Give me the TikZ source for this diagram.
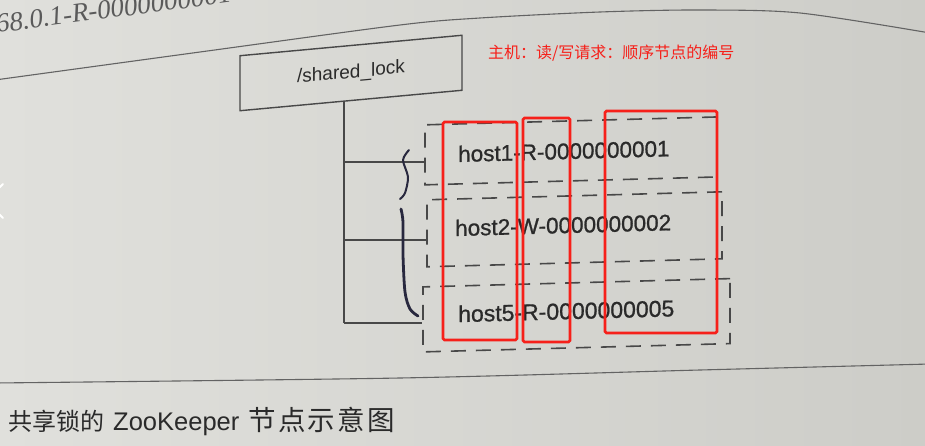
\documentclass[tikz,border=0pt]{standalone}
\usepackage{fontspec}
\setmainfont{Liberation Sans}
\newfontfamily\cjkfont{Noto Sans CJK SC}
\newfontfamily\bookserif{Liberation Serif}
\newfontfamily\hostfont[FakeBold=0.9]{Liberation Sans}
\definecolor{paperlight}{RGB}{224,224,220}
\definecolor{paperdark}{RGB}{205,205,200}
\definecolor{ink}{RGB}{72,72,72}
\definecolor{printtext}{RGB}{42,42,42}
\definecolor{pen}{RGB}{40,40,62}
\definecolor{markred}{RGB}{246,32,26}
\tikzset{
  pagerule/.style={draw=ink!85, line width=1.1pt},
  treeline/.style={draw=ink, line width=1.3pt},
  hostbox/.style={draw=ink, line width=1.6pt, dash pattern=on 15pt off 10pt,
    rectangle, inner sep=0pt},
  rootbox/.style={draw=ink, line width=1.4pt, rectangle, inner sep=0pt,
    minimum width=222pt, minimum height=55pt,
    font=\fontsize{19}{19}\selectfont, text=printtext},
  hostlabel/.style={anchor=west, inner sep=0pt,
    font=\hostfont\fontsize{22.5}{22.5}\selectfont, text=printtext},
  markbox/.style={draw=markred, line width=2.6pt, rounded corners=1.5pt,
    rectangle, inner sep=0pt},
  bracestroke/.style={draw=pen, line cap=round, line join=round},
}
\begin{document}
\begin{tikzpicture}[x=1pt,y=-1pt]
\useasboundingbox (0,0) rectangle (925,446);
\begin{scope}
\clip (0,0) rectangle (925,446);
% paper
\shade[left color=paperlight, right color=paperdark] (0,0) rectangle (925,446);

% running text cut at the top of the page
\node[anchor=base west, inner sep=0pt, rotate=7.5, text=ink!90,
  font=\bookserif\itshape\fontsize{27}{27}\selectfont] (header) at (-3,33)
  {68.0.1-R-0000000001};

% page rules
\draw[pagerule] plot[smooth] coordinates
  {(-5,80) (200,52) (400,25) (480,18) (600,12) (700,10) (800,13) (930,33)};
\draw[pagerule] plot[smooth] coordinates
  {(-5,383) (400,378) (700,370) (930,364)};

% root znode
\begin{scope}[shift={(351,73)}, yslant=0.092, shift={(-351,-73)}, transform shape]
  \node[rootbox] (root) at (351,73) {/shared\_lock};
\end{scope}

% child znodes
\begin{scope}[shift={(345,0)}, yslant=0.027, shift={(-345,0)}, transform shape]
  \node[hostbox, minimum width=292pt, minimum height=60pt] (b1) at (571,157) {};
  \node[hostbox, minimum width=295pt, minimum height=67pt] (b2) at (574.5,235.5) {};
  \node[hostbox, minimum width=307pt, minimum height=65pt] (b3) at (576.5,321.5) {};
  \node[hostlabel] (t1) at (458,157) {host1-R-0000000001};
  \node[hostlabel] (t2) at (455,231) {host2-W-0000000002};
  \node[hostlabel, font=\hostfont\fontsize{23}{23}\selectfont] (t3) at (458,317) {host5-R-0000000005};
  \coordinate (k1) at (344,162);
  \coordinate (k2) at (344,240);
  \coordinate (k3) at (344,323);
\end{scope}

% tree connectors
\draw[treeline] (root.south -| k1) -- (k3);
\draw[treeline] (k1) -- (k1 -| b1.west);
\draw[treeline] (k2) -- (k2 -| b2.west);
\draw[treeline] (k3) -- (k3 -| b3.west);

% hand-drawn braces
\draw[bracestroke, line width=2pt] plot[smooth] coordinates
  {(409,150) (403,160) (408,177) (405,193) (400,199)};
\draw[bracestroke, line width=2.8pt] plot[smooth] coordinates
  {(401,209) (403,222) (403,255) (405,292) (410,309) (418,316)};

% screen marks
\draw[white, line width=2pt, line cap=round] (3,184) -- (-14,201) -- (3,218);
\node[markbox, minimum width=74pt, minimum height=218pt] (m1) at (480,231) {};
\node[markbox, minimum width=47pt, minimum height=224pt] (m2) at (546.5,230) {};
\node[markbox, minimum width=112pt, minimum height=222pt] (m3) at (661,222) {};
\node[anchor=west, inner sep=0pt, text=markred,
  font=\cjkfont\fontsize{16}{16}\selectfont] (note) at (488,53)
  {主机：读/写请求：顺序节点的编号};

% caption
\node[anchor=west, inner sep=0pt, text=printtext] (caption) at (8,421)
  {\cjkfont\fontsize{24}{24}\selectfont 共享锁的\hspace{9pt}%
   \rmfamily\fontsize{25.5}{25.5}\selectfont ZooKeeper\hspace{9pt}%
   \cjkfont\addfontfeature{LetterSpace=8}\fontsize{27.5}{27.5}\selectfont 节点示意图};
\end{scope}
\end{tikzpicture}
\end{document}
